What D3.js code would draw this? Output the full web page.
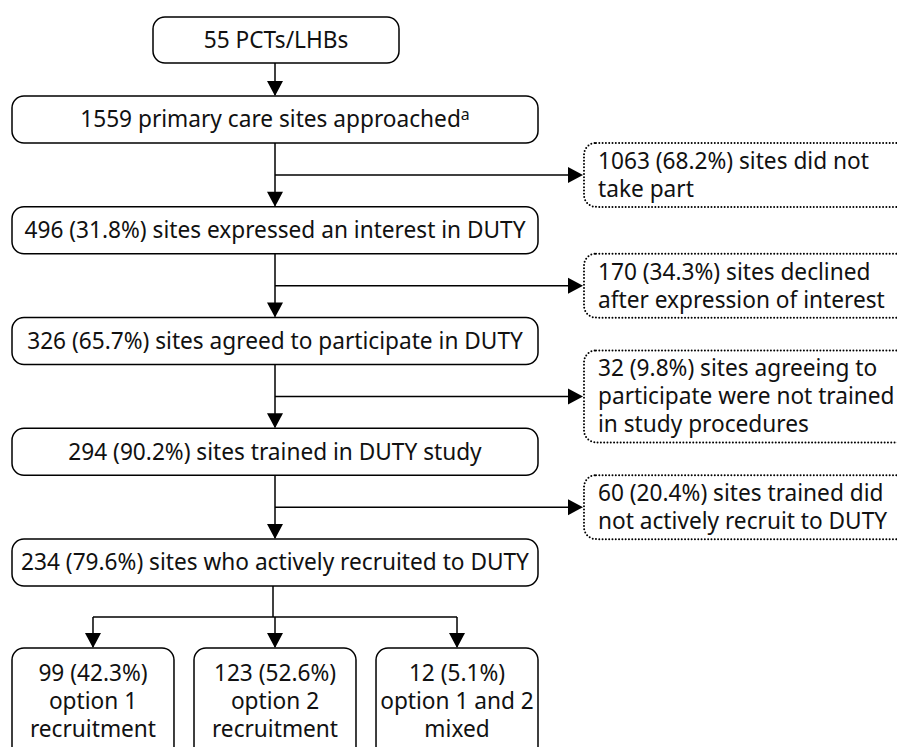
<!DOCTYPE html>
<html>
<head>
<meta charset="utf-8">
<script src="https://cdn.jsdelivr.net/npm/d3@7"></script>
<style>
  body { margin: 0; background: #fff; }
  svg { display: block; }
  text { font-family: "Noto Sans", "Open Sans", sans-serif; fill: #111; }
</style>
</head>
<body>
<svg id="chart" width="897" height="747"></svg>
<script>
// flow data
var topLabel = "55 PCTs/LHBs";
var mainSteps = [
  "1559 primary care sites approached",
  "496 (31.8%) sites expressed an interest in DUTY",
  "326 (65.7%) sites agreed to participate in DUTY",
  "294 (90.2%) sites trained in DUTY study",
  "234 (79.6%) sites who actively recruited to DUTY"
];
var mainNotes = ["a", "", "", "", ""];
var exclusions = [
  ["1063 (68.2%) sites did not", "take part"],
  ["170 (34.3%) sites declined", "after expression of interest"],
  ["32 (9.8%) sites agreeing to", "participate were not trained", "in study procedures"],
  ["60 (20.4%) sites trained did", "not actively recruit to DUTY"]
];
var outcomes = [
  ["99 (42.3%)", "option 1", "recruitment"],
  ["123 (52.6%)", "option 2", "recruitment"],
  ["12 (5.1%)", "option 1 and 2", "mixed"]
];

var svg = d3.select("#chart");
var lineW = 1.5, boxH = 47, lh = 28;
var cx = 275;

// fit font so the longest main line matches the reference width
var probe = svg.append("text").text(mainSteps[4]).style("font-size", "20px");
var fs = 20 * 508 / probe.node().getComputedTextLength();
probe.remove();

var y = d3.scaleLinear().domain([0, mainSteps.length - 1]).range([96, 539]);
var xb = d3.scaleBand().domain(d3.range(outcomes.length)).range([12, 538]).paddingInner(0.11);

function arrowHead(g, x, yy, dir) {
  var s = 15, h = 8, p;
  if (dir === "down") p = [[x - h, yy - s], [x + h, yy - s], [x, yy]];
  else p = [[x - s, yy - h], [x - s, yy + h], [x, yy]];
  g.append("path").attr("d", d3.line()(p) + "Z").attr("fill", "#000");
}
function vline(x, y1, y2) {
  svg.append("line").attr("x1", x).attr("x2", x).attr("y1", y1).attr("y2", y2)
    .attr("stroke", "#000").attr("stroke-width", lineW);
}

// top box
svg.append("rect").attr("x", 153).attr("y", 17).attr("width", 246).attr("height", 46)
  .attr("rx", 12).attr("fill", "#fff").attr("stroke", "#000").attr("stroke-width", lineW);
svg.append("text").attr("x", 276).attr("y", 40).attr("dy", "0.35em").attr("text-anchor", "middle")
  .style("font-size", fs + "px").text(topLabel);
vline(cx, 63, y(0) - 1);
arrowHead(svg, cx, y(0), "down");

// main boxes
var mg = svg.selectAll("g.main").data(mainSteps).join("g").attr("class", "main");
mg.append("rect").attr("x", 12).attr("y", (d, i) => y(i)).attr("width", 526).attr("height", boxH)
  .attr("rx", 12).attr("fill", "#fff").attr("stroke", "#000").attr("stroke-width", lineW);
var mt = mg.append("text").attr("x", cx).attr("y", (d, i) => y(i) + boxH / 2).attr("dy", "0.35em")
  .attr("text-anchor", "middle").style("font-size", fs + "px");
mt.append("tspan").text(d => d);
mt.append("tspan").attr("dy", "-0.5em").style("font-size", (fs * 0.7) + "px").text((d, i) => mainNotes[i]);

// connectors and exclusion boxes
exclusions.forEach(function(lines, i) {
  var top = y(i) + boxH, bot = y(i + 1), my = (top + bot) / 2;
  vline(cx, top, bot - 1);
  arrowHead(svg, cx, bot, "down");
  svg.append("line").attr("x1", cx).attr("x2", 570).attr("y1", my).attr("y2", my)
    .attr("stroke", "#000").attr("stroke-width", lineW);
  arrowHead(svg, 583, my, "right");
  var h = lines.length * lh + 8;
  svg.append("rect").attr("x", 584).attr("y", my - h / 2).attr("width", 340).attr("height", h)
    .attr("rx", 12).attr("fill", "none").attr("stroke", "#000").attr("stroke-width", 2)
    .attr("stroke-dasharray", "0 3.3").attr("stroke-linecap", "round");
  var t = svg.append("text").attr("x", 598).style("font-size", fs + "px");
  lines.forEach(function(l, k) {
    t.append("tspan").attr("x", 598).attr("y", my + (k - (lines.length - 1) / 2) * lh)
      .attr("dy", "0.35em").text(l);
  });
});

// branch to outcomes
var last = y(mainSteps.length - 1) + boxH, by = 617, bTop = 648;
vline(273, last, by);
svg.append("line").attr("x1", xb(0) + xb.bandwidth() / 2).attr("x2", xb(2) + xb.bandwidth() / 2)
  .attr("y1", by).attr("y2", by).attr("stroke", "#000").attr("stroke-width", lineW);
var og = svg.selectAll("g.out").data(outcomes).join("g").attr("class", "out");
og.each(function(lines, i) {
  var g = d3.select(this), c = xb(i) + xb.bandwidth() / 2;
  vline(c, by, bTop - 1);
  arrowHead(svg, c, bTop, "down");
  g.append("rect").attr("x", xb(i)).attr("y", bTop).attr("width", xb.bandwidth()).attr("height", 130)
    .attr("rx", 12).attr("fill", "#fff").attr("stroke", "#000").attr("stroke-width", lineW);
  var t = g.append("text").attr("text-anchor", "middle").style("font-size", fs + "px");
  lines.forEach(function(l, k) {
    t.append("tspan").attr("x", c).attr("y", bTop + 25 + k * lh).attr("dy", "0.35em").text(l);
  });
});
</script>
</body>
</html>
